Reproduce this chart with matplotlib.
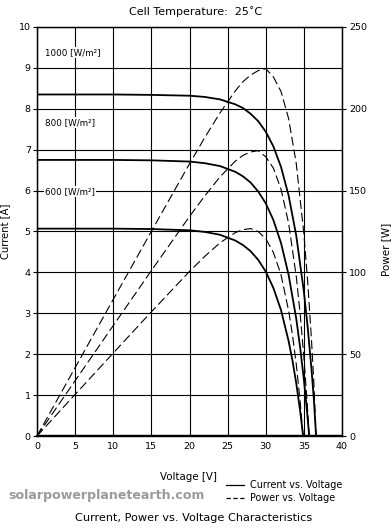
import matplotlib
matplotlib.use("Agg")
import matplotlib.pyplot as plt
from matplotlib.lines import Line2D

# ---- data ----
v_1000 = [0, 5, 10, 15, 20, 22, 24, 26, 27, 28, 29, 30, 31, 32, 33, 34, 35, 35.5, 36, 36.3, 36.6]
i_1000 = [8.35, 8.35, 8.35, 8.34, 8.32, 8.29, 8.23, 8.11, 8.02, 7.88, 7.70, 7.44, 7.08, 6.58, 5.88, 4.90, 3.53, 2.66, 1.63, 0.92, 0]
p_1000 = [0, 41.8, 83.5, 125.1, 166.4, 182.4, 197.5, 210.9, 216.5, 220.6, 223.3, 224.5, 219.5, 210.6, 194.0, 166.6, 123.6, 94.4, 58.7, 33.4, 0]

v_800 = [0, 5, 10, 15, 20, 22, 24, 26, 27, 28, 29, 30, 31, 32, 33, 34, 34.5, 35, 35.4, 35.7]
i_800 = [6.75, 6.75, 6.75, 6.74, 6.71, 6.67, 6.60, 6.46, 6.35, 6.20, 5.98, 5.69, 5.28, 4.72, 3.94, 2.87, 2.18, 1.38, 0.63, 0]
p_800 = [0, 33.8, 67.5, 101.1, 134.2, 146.7, 158.4, 168.0, 171.5, 173.6, 174.4, 170.7, 163.7, 151.0, 130.0, 97.6, 75.2, 48.3, 22.3, 0]

v_600 = [0, 5, 10, 15, 20, 22, 24, 26, 27, 28, 29, 30, 31, 32, 33, 33.5, 34, 34.5, 34.9]
i_600 = [5.07, 5.07, 5.07, 5.06, 5.03, 4.99, 4.92, 4.78, 4.67, 4.52, 4.31, 4.02, 3.62, 3.08, 2.32, 1.85, 1.29, 0.63, 0]
p_600 = [0, 25.4, 50.7, 75.9, 100.6, 109.8, 118.1, 124.3, 126.1, 126.8, 125.0, 120.6, 112.2, 98.6, 76.6, 62.0, 43.9, 21.7, 0]

irradiance_labels = ["1000 [W/m²]", "800 [W/m²]", "600 [W/m²]"]
label_pos = [(1.05, 9.37), (1.05, 7.67), (1.05, 5.98)]

x_ticks = [0, 5, 10, 15, 20, 25, 30, 35, 40]
i_ticks = [0, 1, 2, 3, 4, 5, 6, 7, 8, 9, 10]
p_ticks = [0, 50, 100, 150, 200, 250]

plt.rcParams["font.family"] = ["DejaVu Sans"]

fig = plt.figure(figsize=(3.91, 5.29), dpi=100)
ax = fig.add_axes([37 / 391, 1 - 436 / 529, 305 / 391, 409 / 529])
ax2 = ax.twinx()

ax.set_xlim(0, 40)
ax.set_ylim(0, 10)
ax2.set_ylim(0, 250)
ax.set_xticks(x_ticks)
ax.set_yticks(i_ticks)
ax2.set_yticks(p_ticks)

ax.grid(True, color="black", lw=0.8)
ax.set_axisbelow(True)

for a in (ax, ax2):
    for s in a.spines.values():
        s.set_color("black")
        s.set_linewidth(0.9)
    a.spines["bottom"].set_linewidth(1.6)

ax.tick_params(axis="y", direction="out", length=3, width=0.8, pad=1.5, labelsize=6.8)
ax.tick_params(axis="x", length=0, pad=4.5, labelsize=6.8)
ax2.tick_params(axis="y", direction="out", length=3, width=0.8, pad=2, labelsize=6.8)

solid_kw = dict(color="black", lw=1.3, solid_capstyle="butt")
dash_kw = dict(color="black", lw=0.8, dashes=(8, 3.5))

for v, i in ((v_1000, i_1000), (v_800, i_800), (v_600, i_600)):
    ax.plot(v, i, **solid_kw)
for v, p in ((v_1000, p_1000), (v_800, p_800), (v_600, p_600)):
    ax2.plot(v, p, **dash_kw)

for txt, (x, y) in zip(irradiance_labels, label_pos):
    ax.text(x, y, txt, fontsize=6.3, ha="left", va="center", zorder=5,
            bbox=dict(facecolor="white", edgecolor="none", pad=0.8))

ax.set_ylabel("Current [A]", fontsize=7.2)
ax.yaxis.set_label_coords(-0.088, 0.5)
ax2.set_ylabel("Power [W]", fontsize=7.5)
ax2.yaxis.set_label_coords(1.128, 0.457)
ax.set_xlabel("Voltage [V]", fontsize=7.4)
ax.xaxis.set_label_coords(0.498, -0.088)

fig.text(195.5 / 391, 1 - 12 / 529, "Cell Temperature:  25˚C", fontsize=8, ha="center", va="center")
fig.text(194 / 391, 1 - 518 / 529, "Current, Power vs. Voltage Characteristics", fontsize=8.1,
         ha="center", va="center")
fig.text(8 / 391, 1 - 496 / 529, "solarpowerplanetearth.com", fontsize=9.1, fontweight="bold",
         color="#9b9b9b", ha="left", va="center")

handles = [Line2D([], [], color="black", lw=0.9),
           Line2D([], [], color="black", lw=0.9, dashes=(3.5, 2))]
fig.legend(handles, ["Current vs. Voltage", "Power vs. Voltage"], loc="upper left",
           bbox_to_anchor=(226 / 391, 1 - 480 / 529), frameon=False, fontsize=6.9,
           handlelength=1.9, handletextpad=0.6, labelspacing=0.35, borderpad=0, borderaxespad=0)

fig.savefig("out.png", dpi=100)
